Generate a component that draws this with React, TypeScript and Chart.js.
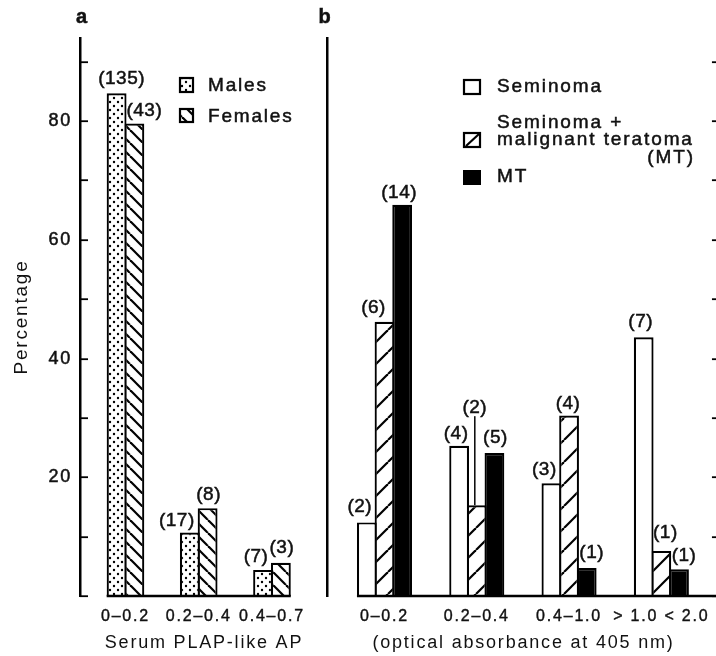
import React, { useEffect, useRef } from 'react';
import { Chart, registerables } from 'chart.js';
Chart.register(...registerables);

// ---------- data (panel a) ----------
const categoriesA = ['0–0.2', '0.2–0.4', '0.4–0.7'];
const malesPct = [84.7, 10.7, 4.4];
const femalesPct = [79.6, 14.8, 5.6];
const malesN = [135, 17, 7];
const femalesN = [43, 8, 3];

// ---------- data (panel b) ----------
const categoriesB = ['0–0.2', '0.2–0.4', '0.4–1.0', '> 1.0 < 2.0'];
const seminomaPct = [12.4, 25.3, 19.0, 43.6];
const semMtPct = [46.2, 15.3, 30.4, 7.6];
const mtPct = [65.9, 24.1, 4.7, 4.5];
const seminomaN = [2, 4, 3, 7];
const semMtN = [6, 2, 4, 1];
const mtN = [14, 5, 1, 1];

// ---------- axis ticks ----------
const yTickMarks = [0, 10, 20, 30, 40, 50, 60, 70, 80, 90];
const yTickLabels = [20, 40, 60, 80];

// ---------- label placement (layout only: [dx, rise above bar top]) ----------
const labelOffsetsA = [
  [[5, 14], [-13, 12], [-7, 13]],
  [[10, 13], [1, 13], [1, 15]],
];
const labelOffsetsB = [
  [[-7, 16], [-3, 12], [-7, 13], [-3, 15]],
  [[-11, 14], [-2, 97], [-1, 12], [4, 18]],
  [[-3, 12], [1, 15], [5, 15], [5, 14]],
];

const FONT = "'Liberation Sans', Arial, Helvetica, sans-serif";
const INK = '#111';

function makePattern(kind: string): CanvasPattern {
  const c = document.createElement('canvas');
  const s = kind === 'dots' ? 8 : kind === 'back' ? 13 : 22;
  c.width = s;
  c.height = s;
  const g = c.getContext('2d') as CanvasRenderingContext2D;
  g.fillStyle = '#fff';
  g.fillRect(0, 0, s, s);
  g.fillStyle = '#000';
  g.strokeStyle = '#000';
  g.lineWidth = 2.2;
  if (kind === 'dots') {
    for (const [x, y] of [[2, 2], [6, 6]]) {
      g.beginPath();
      g.arc(x, y, 1.2, 0, Math.PI * 2);
      g.fill();
    }
  } else if (kind === 'back') {
    for (const o of [-s, 0, s]) {
      g.beginPath();
      g.moveTo(o, 0);
      g.lineTo(o + s, s);
      g.stroke();
    }
  } else {
    for (const o of [-s, 0, s]) {
      g.beginPath();
      g.moveTo(o, s);
      g.lineTo(o + s, 0);
      g.stroke();
    }
  }
  return g.createPattern(c, 'repeat') as CanvasPattern;
}

function heavyText(ctx: any, text: string, x: number, y: number) {
  ctx.strokeText(text, x, y);
  ctx.fillText(text, x, y);
}

const spacingPlugin = {
  id: 'spacing',
  beforeUpdate(chart: any) { chart.ctx.letterSpacing = '1.8px'; },
  beforeLayout(chart: any) { chart.ctx.letterSpacing = '1.8px'; },
  beforeDraw(chart: any) { chart.ctx.letterSpacing = '1.8px'; },
};

function barLabelsPlugin(counts: number[][], offsets: number[][][]) {
  return {
    id: 'barLabels',
    afterDatasetsDraw(chart: any) {
      const ctx = chart.ctx;
      ctx.save();
      ctx.letterSpacing = '0.5px';
      ctx.font = `19px ${FONT}`;
      ctx.fillStyle = INK;
      ctx.strokeStyle = INK;
      ctx.textAlign = 'center';
      ctx.textBaseline = 'middle';
      counts.forEach((arr, di) => {
        const meta = chart.getDatasetMeta(di);
        arr.forEach((n, i) => {
          const bar = meta.data[i];
          const [dx, dy] = offsets[di][i];
          const x = bar.x + dx;
          const y = bar.y - dy;
          ctx.lineWidth = 0.5;
          heavyText(ctx, `(${n})`, x, y);
          if (dy > 40) {
            ctx.lineWidth = 1.6;
            ctx.beginPath();
            ctx.moveTo(x, y + 8);
            ctx.lineTo(x, bar.y);
            ctx.stroke();
          }
        });
      });
      ctx.restore();
    },
  };
}

function baselinePlugin(toAreaEnd: boolean) {
  return {
    id: 'baseline',
    afterDatasetsDraw(chart: any) {
      const ctx = chart.ctx;
      const first = chart.getDatasetMeta(0).data[0];
      const lastMeta = chart.getDatasetMeta(chart.data.datasets.length - 1);
      const lb = lastMeta.data[lastMeta.data.length - 1];
      const x0 = first.x - first.width / 2;
      const x1 = toAreaEnd ? chart.chartArea.right : lb.x + lb.width / 2;
      const y = chart.scales.y.getPixelForValue(0);
      ctx.save();
      ctx.strokeStyle = '#000';
      ctx.lineWidth = 2.4;
      ctx.beginPath();
      ctx.moveTo(x0, y);
      ctx.lineTo(x1, y);
      ctx.stroke();
      ctx.restore();
    },
  };
}

function inwardTicksPlugin(side: string) {
  return {
    id: 'inwardTicks',
    afterDraw(chart: any) {
      const ctx = chart.ctx;
      const ys = chart.scales.y;
      const x0 = side === 'left' ? chart.chartArea.left : chart.chartArea.right;
      const dir = side === 'left' ? 1 : -1;
      ctx.save();
      ctx.strokeStyle = '#000';
      ctx.lineWidth = 1.8;
      yTickMarks.forEach((v) => {
        const py = Math.round(ys.getPixelForValue(v)) + 0.2;
        ctx.beginPath();
        ctx.moveTo(x0, py);
        ctx.lineTo(x0 + dir * 8, py);
        ctx.stroke();
      });
      ctx.restore();
    },
  };
}

function legendAPlugin(dots: CanvasPattern, back: CanvasPattern) {
  return {
    id: 'legendA',
    afterDraw(chart: any) {
      const ctx = chart.ctx;
      ctx.save();
      ctx.strokeStyle = '#000';
      ctx.lineWidth = 2.2;
      ctx.fillStyle = dots;
      ctx.fillRect(180, 78, 13, 14);
      ctx.strokeRect(180, 78, 13, 14);
      ctx.fillStyle = back;
      ctx.fillRect(180, 109, 13, 13);
      ctx.strokeRect(180, 109, 13, 13);
      ctx.fillStyle = INK;
      ctx.strokeStyle = INK;
      ctx.lineWidth = 0.5;
      ctx.letterSpacing = '1.8px';
      ctx.font = `19px ${FONT}`;
      ctx.textAlign = 'left';
      ctx.textBaseline = 'middle';
      heavyText(ctx, 'Males', 208, 86);
      heavyText(ctx, 'Females', 208, 117);
      ctx.letterSpacing = '0px';
      ctx.font = `bold 20px ${FONT}`;
      ctx.textAlign = 'center';
      heavyText(ctx, 'a', 81.5, 17);
      ctx.restore();
    },
  };
}

const legendBPlugin = {
  id: 'legendB',
  afterDraw(chart: any) {
    const ctx = chart.ctx;
    ctx.save();
    ctx.strokeStyle = '#000';
    ctx.lineWidth = 2.2;
    ctx.fillStyle = '#fff';
    ctx.fillRect(164, 80, 16, 14);
    ctx.strokeRect(164, 80, 16, 14);
    ctx.fillRect(164, 133, 16, 14);
    ctx.strokeRect(164, 133, 16, 14);
    ctx.beginPath();
    ctx.moveTo(166, 146);
    ctx.lineTo(179, 134);
    ctx.stroke();
    ctx.fillStyle = '#000';
    ctx.fillRect(163, 170, 18, 15);
    ctx.fillStyle = INK;
    ctx.strokeStyle = INK;
    ctx.lineWidth = 0.5;
    ctx.letterSpacing = '1.9px';
    ctx.font = `19px ${FONT}`;
    ctx.textBaseline = 'middle';
    ctx.textAlign = 'left';
    heavyText(ctx, 'Seminoma', 197, 87);
    heavyText(ctx, 'Seminoma +', 197, 123);
    heavyText(ctx, 'malignant teratoma', 197, 140);
    heavyText(ctx, 'MT', 197, 177);
    ctx.textAlign = 'right';
    heavyText(ctx, '(MT)', 395, 158);
    ctx.letterSpacing = '0px';
    ctx.font = `bold 20px ${FONT}`;
    ctx.textAlign = 'center';
    heavyText(ctx, 'b', 24.5, 17);
    ctx.restore();
  },
};

function yScale(withLabels: boolean, width: number): any {
  return {
    min: 0,
    max: 94,
    bounds: 'data',
    ticks: {
      display: withLabels,
      stepSize: 10,
      callback: (v: any) => (yTickLabels.includes(v) ? String(v) : ''),
      font: { family: FONT, size: 18 },
      color: INK,
      textStrokeColor: INK,
      textStrokeWidth: 0.5,
      padding: 8,
    },
    grid: { display: false, drawTicks: false },
    border: { display: true, width: 2.5, color: '#000' },
    title: {
      display: withLabels,
      text: 'Percentage',
      font: { family: FONT, size: 19 },
      color: INK,
      padding: { top: 10.5, bottom: 0 },
    },
    afterFit: (s: any) => { s.width = width; },
  };
}

function xScale(cats: string[], min: number, max: number, title: string): any {
  return {
    type: 'linear',
    min,
    max,
    bounds: 'data',
    offset: false,
    afterBuildTicks: (s: any) => { s.ticks = cats.map((_, i) => ({ value: i })); },
    ticks: {
      callback: (v: any) => (cats[v] !== undefined ? cats[v] : ''),
      font: { family: FONT, size: 16 },
      color: INK,
      textStrokeColor: INK,
      textStrokeWidth: 0.4,
      padding: 10.5,
      autoSkip: false,
      maxRotation: 0,
      minRotation: 0,
    },
    grid: { display: false, drawTicks: false },
    border: { display: false },
    title: {
      display: true,
      text: title,
      font: { family: FONT, size: 18 },
      color: INK,
      padding: { top: 0, bottom: 2 },
    },
    afterFit: (s: any) => { s.height = 60; },
  };
}

export default function App() {
  const refA = useRef<HTMLCanvasElement>(null);
  const refB = useRef<HTMLCanvasElement>(null);

  useEffect(() => {
    const dots = makePattern('dots');
    const back = makePattern('back');
    const fwd = makePattern('fwd');
    const common = {
      borderColor: '#000',
      borderWidth: 2.2,
      borderSkipped: 'start',
    };
    const chartA = new Chart(refA.current as HTMLCanvasElement, {
      type: 'bar',
      data: {
        datasets: [
          { label: 'Males', data: malesPct.map((v, i) => ({ x: i, y: v })), backgroundColor: dots, ...common },
          { label: 'Females', data: femalesPct.map((v, i) => ({ x: i, y: v })), backgroundColor: back, ...common },
        ],
      } as any,
      options: {
        responsive: false,
        animation: false,
        devicePixelRatio: 1,
        layout: { padding: { left: 0, top: 38, right: 12, bottom: 0 } },
        datasets: { bar: { barPercentage: 1.12, categoryPercentage: 0.485 } },
        plugins: { legend: { display: false }, tooltip: { enabled: false }, title: { display: false } },
        scales: {
          x: xScale(categoriesA, -0.621, 2.765, 'Serum PLAP-like AP'),
          y: yScale(true, 80),
        },
      } as any,
      plugins: [
        spacingPlugin,
        baselinePlugin(false),
        barLabelsPlugin([malesN, femalesN], labelOffsetsA),
        inwardTicksPlugin('left'),
        legendAPlugin(dots, back),
      ] as any,
    });

    const chartB = new Chart(refB.current as HTMLCanvasElement, {
      type: 'bar',
      data: {
        datasets: [
          { label: 'Seminoma', data: seminomaPct.map((v, i) => ({ x: i, y: v })), backgroundColor: '#fff', ...common },
          { label: 'Seminoma + malignant teratoma (MT)', data: semMtPct.map((v, i) => ({ x: i, y: v })), backgroundColor: fwd, ...common },
          { label: 'MT', data: mtPct.map((v, i) => ({ x: i, y: v })), backgroundColor: '#000', ...common },
        ],
      } as any,
      options: {
        responsive: false,
        animation: false,
        devicePixelRatio: 1,
        layout: { padding: { left: 0, top: 38, right: 0, bottom: 0 } },
        datasets: { bar: { barPercentage: 1.12, categoryPercentage: 0.574 } },
        plugins: { legend: { display: false }, tooltip: { enabled: false }, title: { display: false } },
        scales: {
          x: xScale(categoriesB, -0.623, 3.635, '(optical absorbance at 405 nm)'),
          y: yScale(false, 27),
        },
      } as any,
      plugins: [
        spacingPlugin,
        baselinePlugin(true),
        barLabelsPlugin([seminomaN, semMtN, mtN], labelOffsetsB),
        inwardTicksPlugin('right'),
        legendBPlugin,
      ] as any,
    });

    return () => {
      chartA.destroy();
      chartB.destroy();
    };
  }, []);

  return (
    <div style={{ position: 'fixed', left: 0, top: 0, width: 716, height: 656, overflow: 'hidden', background: '#fff' }}>
      <canvas ref={refA} width={340} height={656} style={{ position: 'absolute', left: 0, top: 0, width: 340, height: 656 }} />
      <canvas ref={refB} width={420} height={656} style={{ position: 'absolute', left: 300, top: 0, width: 420, height: 656 }} />
    </div>
  );
}
